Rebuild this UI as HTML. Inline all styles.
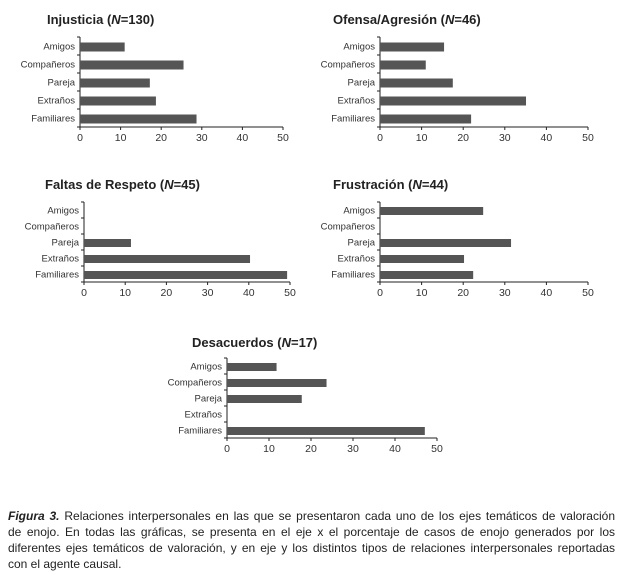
<!DOCTYPE html>
<html><head><meta charset="utf-8"><style>
body{margin:0;background:#fff;width:623px;height:578px;overflow:hidden;font-family:"Liberation Sans",sans-serif}
#caption{position:absolute;left:8px;top:508px;width:607px;font-size:12px;line-height:16px;color:#222}
#caption div{text-align:justify;text-align-last:justify;white-space:nowrap}
#caption div.last{text-align-last:left}
</style></head><body>
<svg id="svg" width="623" height="500" style="position:absolute;left:0;top:0"></svg>
<div id="caption">
<div><b><i>Figura 3.</i></b> Relaciones interpersonales en las que se presentaron cada uno de los ejes temáticos de valoración</div>
<div>de enojo. En todas las gráficas, se presenta en el eje x el porcentaje de casos de enojo generados por los</div>
<div>diferentes ejes temáticos de valoración, y en eje y los distintos tipos de relaciones interpersonales reportadas</div>
<div class="last">con el agente causal.</div>
</div>
<script>
const categories=["Amigos","Compañeros","Pareja","Extraños","Familiares"];
const xTicks=[0,10,20,30,40,50];
const injusticiaValues=[11,25.5,17.2,18.7,28.7];
const ofensaValues=[15.4,11,17.5,35.1,21.9];
const faltasValues=[0,0,11.4,40.3,49.3];
const frustracionValues=[24.8,0,31.5,20.2,22.4];
const desacuerdosValues=[11.8,23.7,17.8,0,47.1];
const titles=["Injusticia","Ofensa/Agresión","Faltas de Respeto","Frustración","Desacuerdos"];
const ns=["130","46","45","44","17"];
const NS="http://www.w3.org/2000/svg";
const svg=document.getElementById('svg');
function mk(tag,attrs,parent){const e=document.createElementNS(NS,tag);for(const k in attrs)e.setAttribute(k,attrs[k]);parent.appendChild(e);return e;}
function chart(idx,values,L){
  const g=mk('g',{},svg);
  
  
  const xs=v=>L.x0+(v-0)/50*(L.x1-L.x0);
  const band=(L.yb-L.yt)/categories.length;
  const t=mk('text',{x:L.tx,y:L.ty,'font-size':13,'font-weight':'bold',fill:'#222'},g);
  
  
  t.innerHTML=titles[idx]+' (<tspan font-style="italic">N</tspan>='+ns[idx]+')';
  const ax=mk('path',{d:`M${L.x0},${L.yt}V${L.yb}H${L.x1}`,stroke:'#222','stroke-width':1,fill:'none'},g);
  
  
  for(let i=0;i<=categories.length;i++){const y=L.yt+i*band;mk('line',{x1:L.x0-3,x2:L.x0,y1:y,y2:y,stroke:'#222'},g);}
  xTicks.forEach(v=>{const x=xs(v);mk('line',{x1:x,x2:x,y1:L.yb,y2:L.yb+3,stroke:'#222'},g);
    const tl=mk('text',{x:x,y:L.yb+14,'font-size':10.5,'text-anchor':'middle',fill:'#333'},g);tl.textContent=v;
    
    });
  categories.forEach((c,i)=>{const yc=L.yt+(i+0.5)*band;
    const cl=mk('text',{x:L.x0-5,y:yc+3.5,'font-size':9.5,'text-anchor':'end',fill:'#333'},g);cl.textContent=c;
    
    
    if(values[i]>0){const bh=band*0.5;
      const b=mk('rect',{x:L.x0,y:yc-bh/2+1,width:xs(values[i])-L.x0,height:bh,fill:'#555'},g);
      
      }
  });
}
chart(0,injusticiaValues,{x0:80,x1:283,yt:37,yb:127,tx:47,ty:24});
chart(1,ofensaValues,{x0:380,x1:588,yt:37,yb:127,tx:333,ty:24});
chart(2,faltasValues,{x0:84,x1:290,yt:202,yb:282,tx:45,ty:189});
chart(3,frustracionValues,{x0:380,x1:588,yt:202,yb:282,tx:333,ty:189});
chart(4,desacuerdosValues,{x0:227,x1:437,yt:358,yb:438,tx:192,ty:347});
</script>
</body></html>
